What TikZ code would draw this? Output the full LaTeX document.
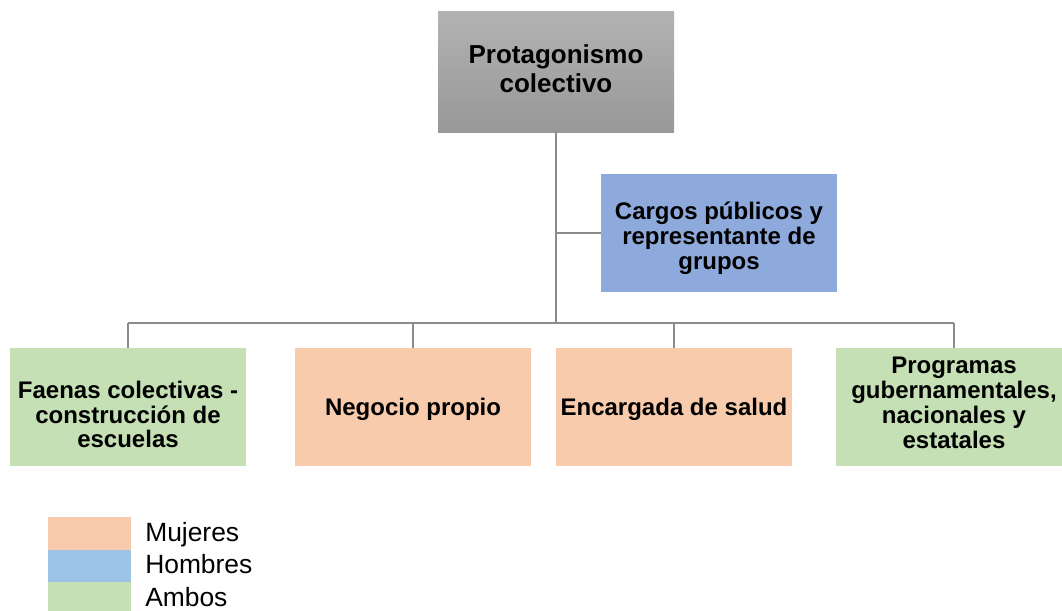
\documentclass[tikz,border=0pt]{standalone}
\usepackage{fontspec}
\setmainfont{Liberation Sans}
\definecolor{peach}{HTML}{F8CBAD}
\definecolor{bluebox}{HTML}{8EA9DB}
\definecolor{bluelegend}{HTML}{9DC3E6}
\definecolor{greenbox}{HTML}{C5E0B4}
\definecolor{linegray}{HTML}{8C8C8C}
\definecolor{graytop}{HTML}{B2B2B2}
\definecolor{graybot}{HTML}{989898}
\tikzset{
  box/.style={rectangle, minimum width=177pt, minimum height=88.5pt, inner sep=0pt},
  txt/.style={align=center, inner sep=0pt, font=\fontsize{18}{18.6}\selectfont\bfseries},
  conn/.style={draw=linegray, line width=1.5pt},
  legtext/.style={anchor=base west, inner sep=0pt, font=\fontsize{19.8}{20}\selectfont},
}
\begin{document}
\begin{tikzpicture}[x=0.75pt,y=-0.75pt]
\useasboundingbox (0,0) rectangle (1062,610);
% boxes
\node[box, top color=graytop, bottom color=graybot, minimum height=90pt,
  label={[txt, font=\fontsize{19.5}{21.8}\selectfont\bfseries, yshift=2.25pt]center:{Protagonismo\\colectivo}}] (top) at (556,72) {};
\node[box, fill=bluebox,
  label={[txt, yshift=-4.5pt]center:{Cargos públicos y\\representante de\\grupos}}] (cargos) at (719,232.5) {};
\node[box, fill=greenbox,
  label={[txt, yshift=-5.6pt]center:{Faenas colectivas -\\construcción de\\escuelas}}] (faenas) at (128,407) {};
\node[box, fill=peach,
  label={[txt, yshift=-1.5pt]center:{Negocio propio}}] (negocio) at (413,407) {};
\node[box, fill=peach,
  label={[txt, yshift=-1.5pt]center:{Encargada de salud}}] (salud) at (674,407) {};
\node[box, fill=greenbox,
  label={[txt, yshift=3pt]center:{Programas\\gubernamentales,\\nacionales y\\estatales}}] (prog) at (954,407) {};
% connectors
\coordinate (hub) at (556,323);
\coordinate (hubL) at (128,323);
\coordinate (hubR) at (954,323);
\draw[conn] (top.south) -- (hub);
\draw[conn] (556,232.5) -- (cargos.west);
\draw[conn] (hubL) -- (hubR);
\draw[conn] (hubL) -- (faenas.north);
\draw[conn] (413,323) -- (negocio.north);
\draw[conn] (674,323) -- (salud.north);
\draw[conn] (hubR) -- (prog.north);
% legend
\fill[peach] (48,517) rectangle (131,549.5);
\fill[bluelegend] (48,549.5) rectangle (131,582);
\fill[greenbox] (48,582) rectangle (131,614);
\node[legtext] (lm) at (145,541.7) {Mujeres};
\node[legtext] (lh) at (145,573.3) {Hombres};
\node[legtext] (la) at (145,606) {Ambos};
\end{tikzpicture}
\end{document}
